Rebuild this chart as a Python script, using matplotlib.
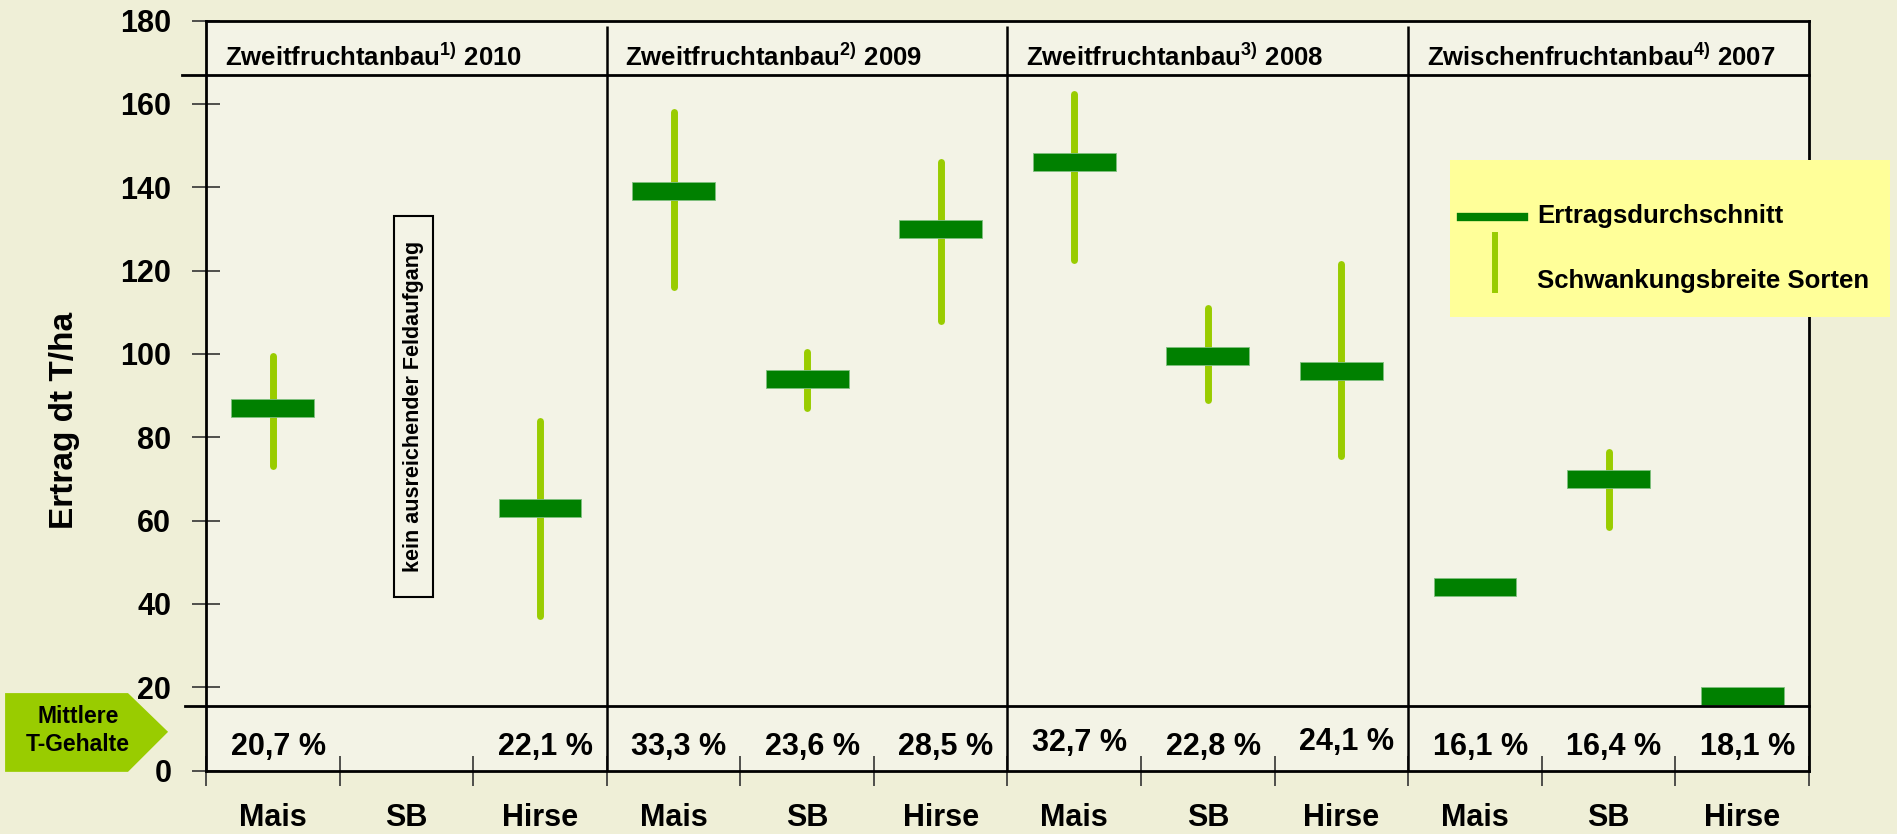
import numpy as np
import matplotlib.pyplot as plt
from matplotlib.patches import Rectangle, Polygon
from matplotlib.lines import Line2D

plt.rcParams["font.family"] = ["Liberation Sans", "DejaVu Sans"]
plt.rcParams["font.weight"] = "bold"
plt.rcParams["mathtext.default"] = "regular"

# Data
crops = ["Mais", "SB", "Hirse"] * 4
groups = ["Zweitfruchtanbau$^{1)}$ 2010", "Zweitfruchtanbau$^{2)}$ 2009",
          "Zweitfruchtanbau$^{3)}$ 2008", "Zwischenfruchtanbau$^{4)}$ 2007"]
mean_yield = np.array([87, np.nan, 63, 139, 94, 130, 146, 99.5, 96, 44, 70, 18])
range_low = np.array([73, np.nan, 37, 116, 87, 108, 122.5, 89, 75.5, np.nan, 58.5, np.nan])
range_high = np.array([99.5, np.nan, 84, 158, 100.5, 146, 162.5, 111, 121.5, np.nan, 76.5, np.nan])
t_gehalt = ["20,7 %", "", "22,1 %", "33,3 %", "23,6 %", "28,5 %",
            "32,7 %", "22,8 %", "24,1 %", "16,1 %", "16,4 %", "18,1 %"]
t_gehalt_y = [3.8, 3.8, 3.8, 3.8, 3.8, 3.8, 4.6, 3.8, 5.0, 3.8, 3.8, 3.8]

W, H = 1897, 834
bg_out = "#efefd7"
bg_in = "#f3f3e6"
dark = "#008000"
light = "#99cc00"

fig = plt.figure(figsize=(W / 100, H / 100), dpi=100, facecolor=bg_out)
ax = fig.add_axes([206 / W, 63.4 / H, 1603 / W, 750 / H], facecolor=bg_in)


def px(x, y):
    # figure pixel position (from top-left) -> figure fraction
    return x / W, 1 - y / H


x = np.arange(len(crops)) + 0.5

# Schwankungsbreite + Ertragsdurchschnitt
ax.vlines(x, range_low, range_high, color=light, lw=5, capstyle="round", zorder=3)
ax.bar(x, 4.3, bottom=mean_yield - 2.15, width=0.62, color=dark,
       edgecolor="#7fbf7f", linewidth=0.6, zorder=4)

# frame lines
ax.plot([-0.18, 12], [167, 167], color="black", lw=2, clip_on=False, zorder=5)
ax.plot([-0.16, 12], [15.5, 15.5], color="black", lw=2, clip_on=False, zorder=5)
ax.vlines([3, 6, 9], 0, 178.8, color="black", lw=1.8, zorder=5)

# group headers
for g, label in enumerate(groups):
    ax.text(g * 3 + 0.14, 169, label, fontsize=18.5, va="baseline", ha="left")

# T-Gehalte
for i, lab in enumerate(t_gehalt):
    ax.text(x[i] + 0.04, t_gehalt_y[i], lab, fontsize=22, ha="center", va="baseline")

# no emergence box
ax.add_patch(Rectangle((1.41, 41.6), 0.29, 91.5, facecolor=bg_in,
                       edgecolor="black", lw=1.5, zorder=3))
ax.text(1.555, 87.4, "kein ausreichender Feldaufgang", rotation=90,
        fontsize=15.5, ha="center", va="center", zorder=4)

# arrow label on the left
ax.add_patch(Polygon([(-1.504, 18.6), (-0.584, 18.6), (-0.284, 9.3),
                      (-0.584, -0.3), (-1.504, -0.3)], closed=True,
                     facecolor=light, edgecolor="none", clip_on=False, zorder=1))
ax.text(-0.96, 9.6, "Mittlere\nT-Gehalte", fontsize=16.5, ha="center", va="center",
        linespacing=1.25)

# axes setup
ax.set_xlim(0, 12)
ax.set_ylim(0, 180)
ax.set_yticks(np.arange(0, 181, 20))
ax.set_xticks(np.arange(0, 13))
ax.set_xticklabels([])
ax.set_xticks(x, minor=True)
ax.set_xticklabels(crops, minor=True)
ax.tick_params(axis="y", direction="inout", length=20, width=1.2, color="#333333",
               labelsize=22, pad=15)
ax.tick_params(axis="x", which="major", direction="inout", length=21, width=1.2,
               color="#333333")
ax.tick_params(axis="x", which="minor", length=0, labelsize=22, pad=23)
for s in ax.spines.values():
    s.set_linewidth(2)

fig.text(*px(64, 420), "Ertrag dt T/ha", rotation=90, fontsize=24,
         ha="center", va="center")

# legend box
lx0, ly0 = px(1450, 317)
lx1, ly1 = px(1890, 160)
fig.patches.append(Rectangle((lx0, ly0), lx1 - lx0, ly1 - ly0, transform=fig.transFigure,
                             facecolor="#ffff99", edgecolor="none", zorder=5))
fig.lines.append(Line2D([px(1461, 0)[0], px(1524, 0)[0]], [px(0, 217)[1]] * 2,
                        transform=fig.transFigure, color=dark, lw=6, zorder=6))
fig.lines.append(Line2D([px(1495, 0)[0]] * 2, [px(0, 235)[1], px(0, 290)[1]],
                        transform=fig.transFigure, color=light, lw=4.3, zorder=6))
fig.text(*px(1537, 222.7), "Ertragsdurchschnitt", fontsize=18.5, va="baseline", zorder=7)
fig.text(*px(1537, 288.3), "Schwankungsbreite Sorten", fontsize=18.5, va="baseline", zorder=7)

fig.savefig("out.png", dpi=100, facecolor=fig.get_facecolor())
